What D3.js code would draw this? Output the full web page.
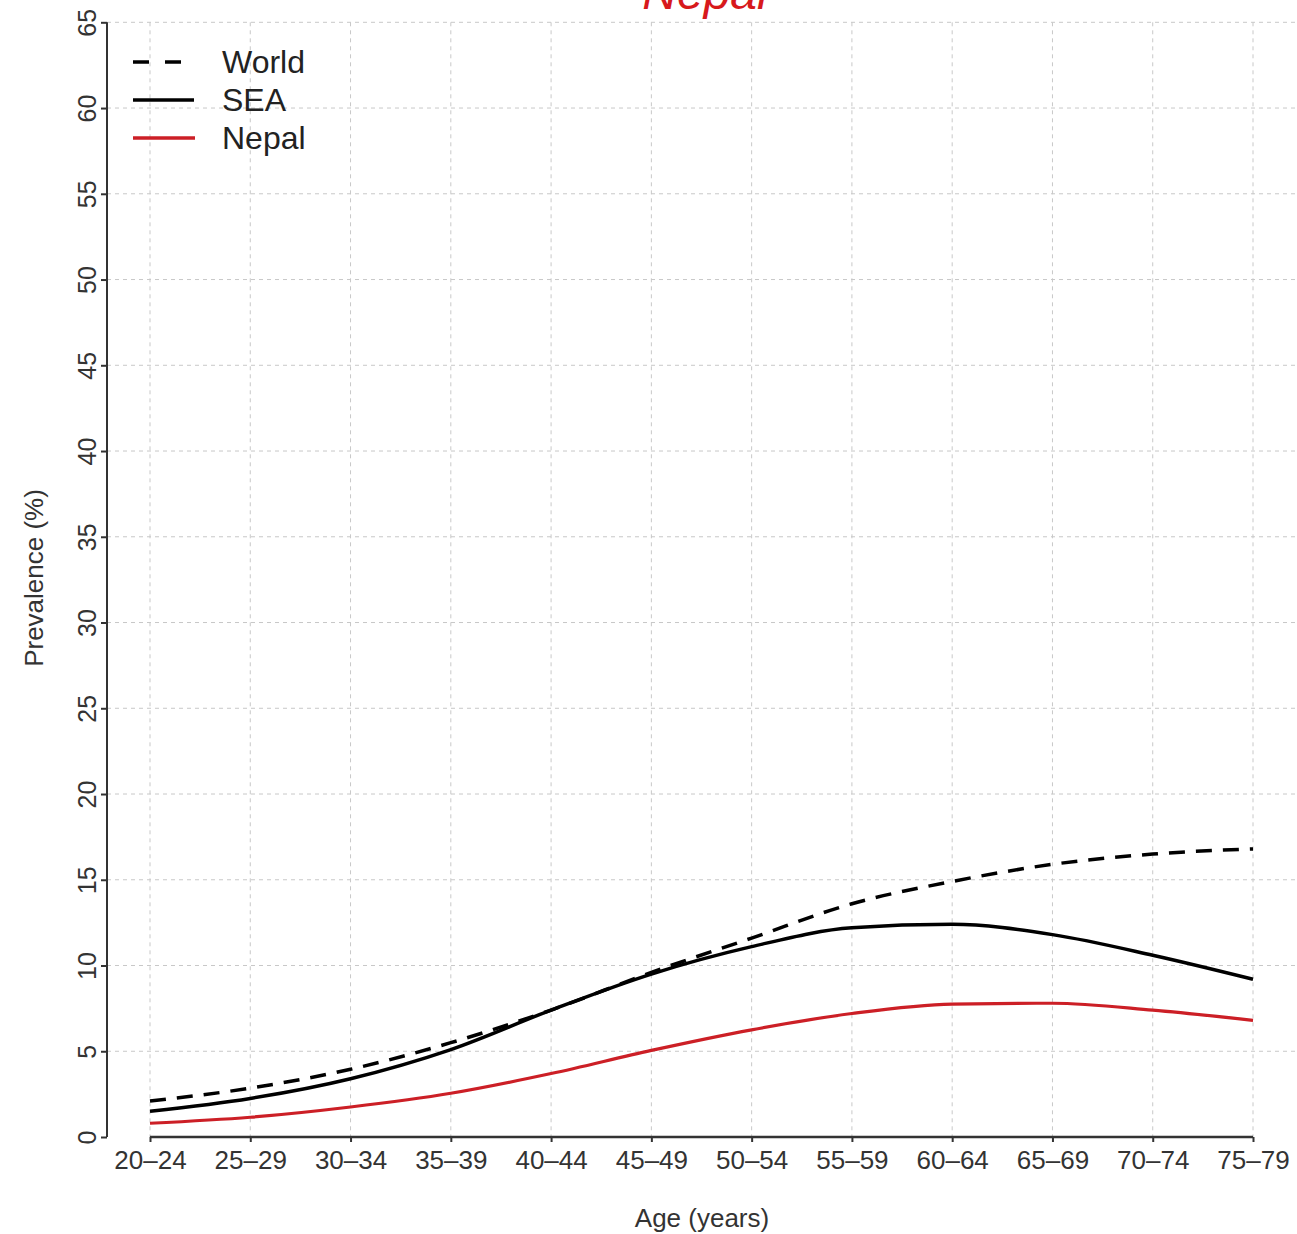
<!DOCTYPE html>
<html><head><meta charset="utf-8">
<script src="https://cdn.jsdelivr.net/npm/d3@7"></script>
<style>body{margin:0;background:#fff;} text{font-family:"Liberation Sans",Arial,sans-serif;}</style>
</head><body>
<svg id="c" width="1297" height="1234"></svg>
<script>
const categories = ["20–24","25–29","30–34","35–39","40–44","45–49","50–54","55–59","60–64","65–69","70–74","75–79"];
const world = [2.1, 2.85, 3.95, 5.5, 7.4, 9.6, 11.6, 13.6, 14.9, 15.9, 16.5, 16.8];
const sea   = [1.5, 2.25, 3.4, 5.1, 7.4, 9.5, 11.1, 12.2, 12.4, 11.8, 10.6, 9.2];
const nepal = [0.8, 1.15, 1.75, 2.55, 3.7, 5.05, 6.25, 7.2, 7.75, 7.8, 7.4, 6.8];
const yTicks = [0,5,10,15,20,25,30,35,40,45,50,55,60,65];

const svg = d3.select("#c");
const x = d3.scalePoint().domain(categories).range([150, 1253]);
const y = d3.scaleLinear().domain([0, 65]).range([1137, 22.3]);

// grid
const grid = svg.append("g").attr("stroke","#c8c8c8").attr("stroke-width",1).attr("stroke-dasharray","4,4");
grid.selectAll("line.h").data(yTicks.filter(d=>d>0)).join("line")
  .attr("x1",107).attr("x2",1297).attr("y1",d=>y(d)).attr("y2",d=>y(d));
grid.selectAll("line.v").data(categories).join("line")
  .attr("x1",d=>x(d)).attr("x2",d=>x(d)).attr("y1",y(65)).attr("y2",y(0));

// y axis
const ya = svg.append("g").attr("transform","translate(107,0)")
  .call(d3.axisLeft(y).tickValues(yTicks).tickSize(6).tickFormat(d3.format("d")));
ya.select(".domain").attr("stroke","#333").attr("stroke-width",2).attr("d",`M0,${y(0)}V${y(65)}`);
ya.selectAll(".tick line").attr("stroke","#333").attr("stroke-width",2);
ya.selectAll(".tick text").attr("font-size",25).attr("fill","#333")
  .attr("text-anchor","middle").attr("x",0).attr("y",0).attr("dy",0)
  .attr("transform","translate(-11,0) rotate(-90)");

// x axis
const xa = svg.append("g").attr("transform",`translate(0,${y(0)})`)
  .call(d3.axisBottom(x).tickSize(5).tickPadding(9));
xa.select(".domain").attr("stroke","#333").attr("stroke-width",2.5).attr("d",`M${x(categories[0])},0H${x(categories[categories.length-1])}`);
xa.selectAll(".tick line").attr("stroke","#333").attr("stroke-width",2);
xa.selectAll(".tick text").attr("font-size",26).attr("fill","#333");

// axis titles
svg.append("text").attr("x",702).attr("y",1227).attr("text-anchor","middle").attr("font-size",26).attr("fill","#333").text("Age (years)");
svg.append("text").attr("transform","translate(43,578) rotate(-90)").attr("text-anchor","middle").attr("font-size",26).attr("fill","#333").text("Prevalence (%)");

// title
svg.append("text").attr("x",705).attr("y",9).attr("text-anchor","middle").attr("font-size",48).attr("font-style","italic").attr("fill","#d7191c").text("Nepal");

// lines
const line = d3.line().x((d,i)=>x(categories[i])).y(d=>y(d)).curve(d3.curveMonotoneX);
svg.append("path").datum(nepal).attr("d",line).attr("fill","none").attr("stroke","#cc1f26").attr("stroke-width",3.2);
svg.append("path").datum(sea).attr("d",line).attr("fill","none").attr("stroke","#000").attr("stroke-width",3.5);
svg.append("path").datum(world).attr("d",line).attr("fill","none").attr("stroke","#000").attr("stroke-width",3.5).attr("stroke-dasharray","16,11");

// legend
const legend = [
  {name:"World", color:"#000", dash:"16,16", x2:182},
  {name:"SEA", color:"#000", dash:null, x2:194},
  {name:"Nepal", color:"#cc1f26", dash:null, x2:195}
];
const lg = svg.append("g");
legend.forEach((d,i)=>{
  const yy = 62 + i*38;
  lg.append("line").attr("x1",133).attr("x2",d.x2).attr("y1",yy).attr("y2",yy)
    .attr("stroke",d.color).attr("stroke-width",3.5).attr("stroke-dasharray",d.dash);
  lg.append("text").attr("x",222).attr("y",yy+11).attr("font-size",32).attr("fill","#222").text(d.name);
});
</script>
</body></html>
